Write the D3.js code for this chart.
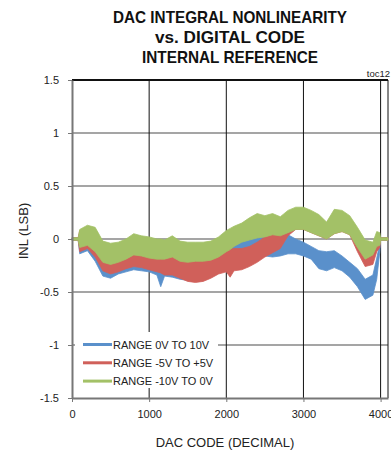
<!DOCTYPE html>
<html>
<head>
<meta charset="utf-8">
<script src="https://cdnjs.cloudflare.com/ajax/libs/d3/7.8.5/d3.min.js"></script>
<style>
  body { margin: 0; background: #fff; }
  svg { display: block; }
</style>
</head>
<body>
<div id="chart"></div>
<script>
// ---------- data ----------
const titleLines = ['DAC INTEGRAL NONLINEARITY', 'vs. DIGITAL CODE', 'INTERNAL REFERENCE'];
const xTicks = [0, 1000, 2000, 3000, 4000];
const yTicks = [-1.5, -1, -0.5, 0, 0.5, 1, 1.5];
const yTickLabels = ['-1.5', '-1', '-0.5', '0', '0.5', '1', '1.5'];
const seriesNames = ['RANGE 0V TO 10V', 'RANGE -5V TO +5V', 'RANGE -10V TO 0V'];

const codes = [0, 80, 100, 200, 300, 400, 500, 600, 700, 800, 900, 1000, 1100, 1150, 1200, 1300, 1400,
  1500, 1600, 1700, 1800, 1900, 2000, 2050, 2100, 2200, 2300, 2400, 2500, 2600, 2700, 2800, 2900,
  3000, 3100, 3200, 3300, 3400, 3500, 3600, 3700, 3800, 3900, 3950, 3990, 4000, 4096];

// upper / lower edge of each noisy band (LSB)
const blueHi = [0.012, 0.012, 0.06, 0.08, 0.02, -0.14, -0.16, -0.14, -0.12, -0.09, -0.10, -0.11, -0.13, -0.135, -0.14, -0.14, -0.17,
  -0.19, -0.20, -0.18, -0.15, -0.10, -0.06, -0.05, -0.03, 0.00, 0.02, 0.04, 0.05, 0.05, 0.05, 0.04, 0.00,
  -0.03, -0.07, -0.11, -0.12, -0.11, -0.16, -0.22, -0.28, -0.38, -0.34, -0.18, -0.04, 0.012, 0.012];
const blueLo = [-0.012, -0.012, -0.14, -0.11, -0.21, -0.35, -0.37, -0.33, -0.31, -0.29, -0.30, -0.31, -0.34, -0.45, -0.35, -0.36, -0.38,
  -0.39, -0.40, -0.38, -0.34, -0.29, -0.25, -0.25, -0.24, -0.23, -0.21, -0.19, -0.16, -0.17, -0.16, -0.14, -0.14,
  -0.16, -0.19, -0.28, -0.30, -0.27, -0.30, -0.36, -0.45, -0.57, -0.53, -0.38, -0.12, -0.012, -0.012];

const redHi = [0.012, 0.012, 0.08, 0.10, 0.05, -0.12, -0.14, -0.13, -0.10, -0.07, -0.08, -0.10, -0.12, -0.125, -0.13, -0.13, -0.16,
  -0.19, -0.20, -0.19, -0.16, -0.13, -0.10, -0.095, -0.09, -0.09, -0.07, -0.03, 0.02, 0.06, 0.10, 0.22, 0.28,
  0.28, 0.25, 0.21, 0.14, 0.26, 0.25, 0.20, 0.08, -0.06, -0.06, 0.02, 0.00, 0.012, 0.012];
const redLo = [-0.012, -0.012, -0.12, -0.09, -0.17, -0.30, -0.33, -0.31, -0.28, -0.26, -0.27, -0.29, -0.31, -0.32, -0.34, -0.34, -0.37,
  -0.40, -0.41, -0.40, -0.37, -0.33, -0.31, -0.36, -0.30, -0.29, -0.26, -0.22, -0.17, -0.13, -0.09, 0.03, 0.09,
  0.09, 0.06, 0.03, 0.00, 0.05, 0.07, 0.04, -0.12, -0.26, -0.24, -0.12, -0.08, -0.012, -0.012];

const greenHi = [0.012, 0.012, 0.09, 0.13, 0.11, -0.02, -0.04, -0.03, 0.00, 0.05, 0.03, 0.02, 0.00, 0.00, -0.01, 0.03, -0.02,
  -0.03, -0.03, -0.03, -0.02, 0.02, 0.08, 0.10, 0.12, 0.15, 0.20, 0.24, 0.22, 0.24, 0.21, 0.27, 0.30,
  0.30, 0.27, 0.23, 0.16, 0.28, 0.27, 0.22, 0.11, -0.01, -0.03, 0.07, 0.06, 0.012, 0.012];
const greenLo = [-0.012, -0.012, -0.08, -0.06, -0.12, -0.22, -0.24, -0.22, -0.19, -0.15, -0.16, -0.18, -0.19, -0.19, -0.19, -0.17, -0.21,
  -0.22, -0.21, -0.21, -0.20, -0.17, -0.12, -0.10, -0.07, -0.03, -0.01, 0.01, 0.02, 0.04, 0.03, 0.06, 0.09,
  0.09, 0.06, 0.03, 0.00, 0.05, 0.07, 0.04, -0.08, -0.19, -0.15, -0.07, -0.06, -0.012, -0.012];

const colors = ['#5a90cb', '#d0605a', '#a3c167'];

// ---------- layout ----------
const W = 391, H = 452;
const plotL = 72, plotR = 388, plotT = 80, plotB = 398;

const svg = d3.select('#chart').append('svg')
  .attr('width', W).attr('height', H);

const x = d3.scaleLinear().domain([0, 4096]).range([plotL, plotR]);
const y = d3.scaleLinear().domain([-1.5, 1.5]).range([plotB, plotT]);

/* ---------- title ---------- */
const titleLen = [234, 150, 176];
svg.append('g').selectAll('text').data(titleLines).enter().append('text')
  .attr('x', 230)
  .attr('y', (d, i) => 23 + i * 20)
  .attr('text-anchor', 'middle')
  .attr('font-family', '"Liberation Sans Narrow", "Arial Narrow", "Liberation Sans", Arial, sans-serif')
  .attr('font-weight', 'bold')
  .attr('font-size', '16.5px')
  .attr('fill', '#111')
  .attr('textLength', (d, i) => titleLen[i])
  .attr('lengthAdjust', 'spacingAndGlyphs')
  .text(d => d);

svg.append('text')
  .attr('x', 390).attr('y', 77)
  .attr('text-anchor', 'end')
  .attr('font-family', '"Liberation Sans", Arial, sans-serif')
  .attr('font-size', '9.5px')
  .attr('fill', '#222')
  .text('toc12');

/* ---------- grid ---------- */
svg.append('g').selectAll('line').data(yTicks.filter(v => v > -1.5 && v < 1.5)).enter().append('line')
  .attr('x1', plotL).attr('x2', plotR)
  .attr('y1', d => y(d)).attr('y2', d => y(d))
  .attr('stroke', '#878787').attr('stroke-width', 1.6);

svg.append('g').selectAll('line').data(xTicks.filter(v => v > 0)).enter().append('line')
  .attr('x1', d => x(d)).attr('x2', d => x(d))
  .attr('y1', plotT).attr('y2', plotB)
  .attr('stroke', '#111').attr('stroke-width', 1);

// top and right borders
svg.append('line').attr('x1', plotL).attr('x2', plotR).attr('y1', plotT).attr('y2', plotT)
  .attr('stroke', '#111').attr('stroke-width', 1.8);
svg.append('line').attr('x1', plotR).attr('x2', plotR).attr('y1', plotT).attr('y2', plotB)
  .attr('stroke', '#111').attr('stroke-width', 1);

/* ---------- bands ---------- */
const bands = [[blueHi, blueLo], [redHi, redLo], [greenHi, greenLo]];
const area = d3.area()
  .x(d => x(d.code))
  .y0(d => y(d.lo))
  .y1(d => y(d.hi));

bands.forEach((b, k) => {
  const pts = codes.map((c, i) => ({ code: c, hi: b[0][i], lo: b[1][i] }));
  svg.append('path')
    .datum(pts)
    .attr('d', area)
    .attr('fill', colors[k])
    .attr('stroke', colors[k])
    .attr('stroke-width', 0.8);
});

/* ---------- axes ---------- */
const yAxis = d3.axisLeft(y)
  .tickValues(yTicks)
  .tickFormat((d, i) => yTickLabels[i])
  .tickSize(4).tickSizeOuter(0).tickPadding(9);
const gy = svg.append('g').attr('transform', `translate(${plotL},0)`).call(yAxis);
gy.select('.domain').attr('stroke', '#777').attr('stroke-width', 2);
gy.selectAll('.tick line').attr('stroke', '#777');
gy.selectAll('text').attr('font-family', '"Liberation Sans", Arial, sans-serif')
  .attr('font-size', '11px').attr('fill', '#222');

const xAxis = d3.axisBottom(x)
  .tickValues(xTicks)
  .tickFormat(d3.format('d'))
  .tickSize(4).tickSizeOuter(0).tickPadding(8);
const gx = svg.append('g').attr('transform', `translate(0,${plotB})`).call(xAxis);
gx.select('.domain').attr('stroke', '#777').attr('stroke-width', 2);
gx.selectAll('.tick line').attr('stroke', '#777');
gx.selectAll('text').attr('font-family', '"Liberation Sans", Arial, sans-serif')
  .attr('font-size', '11px').attr('fill', '#222');

/* ---------- axis titles ---------- */
svg.append('text')
  .attr('transform', 'translate(28,231) rotate(-90)')
  .attr('text-anchor', 'middle')
  .attr('font-family', '"Liberation Sans", Arial, sans-serif')
  .attr('font-size', '13px').attr('fill', '#222')
  .text('INL (LSB)');

svg.append('text')
  .attr('x', 225).attr('y', 447)
  .attr('text-anchor', 'middle')
  .attr('font-family', '"Liberation Sans", Arial, sans-serif')
  .attr('font-size', '13px').attr('fill', '#222')
  .text('DAC CODE (DECIMAL)');

/* ---------- legend ---------- */
const legend = svg.append('g');
legend.append('rect')
  .attr('x', 75).attr('y', 332).attr('width', 143).attr('height', 56)
  .attr('fill', '#fff');
const rows = legend.selectAll('g.row').data(seriesNames).enter().append('g')
  .attr('class', 'row')
  .attr('transform', (d, i) => `translate(83,${344.5 + i * 18.3})`);
rows.append('line')
  .attr('x1', 0).attr('x2', 29)
  .attr('stroke', (d, i) => colors[i]).attr('stroke-width', 3);
rows.append('text')
  .attr('x', 30).attr('y', 4)
  .attr('font-family', '"Liberation Sans", Arial, sans-serif')
  .attr('font-size', '11px').attr('fill', '#222')
  .text(d => d);
</script>
</body>
</html>
